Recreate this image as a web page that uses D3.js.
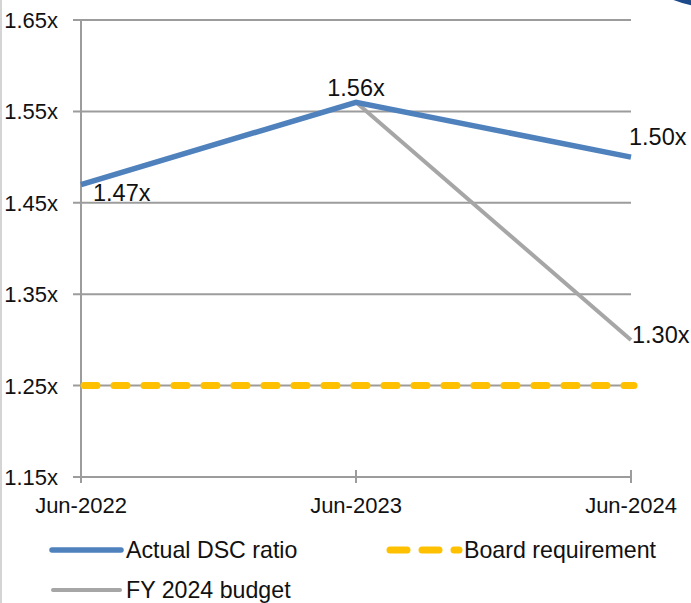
<!DOCTYPE html>
<html><head><meta charset="utf-8">
<script src="https://cdn.jsdelivr.net/npm/d3@7"></script>
<style>html,body{margin:0;padding:0;background:#fff;}svg{display:block;font-family:"Liberation Sans",Arial,sans-serif;}</style>
</head><body>
<script>
const categories = ["Jun-2022", "Jun-2023", "Jun-2024"];
const actualDSC = [1.47, 1.56, 1.50];
const budgetCats = ["Jun-2023", "Jun-2024"];
const budgetFY2024 = [1.56, 1.30];
const boardRequirement = [1.25, 1.25, 1.25];
const yTicks = [1.15, 1.25, 1.35, 1.45, 1.55, 1.65];
const legendLabels = ["Actual DSC ratio", "Board requirement", "FY 2024 budget"];

const W = 691, H = 603;
const svg = d3.select("body").append("svg").attr("width", W).attr("height", H);

// frame line & corner logo fragment
svg.append("line").attr("x1", 1).attr("x2", 1).attr("y1", 0).attr("y2", H)
  .attr("stroke", "#d4d4d4").attr("stroke-width", 2);
svg.append("circle").attr("cx", 712).attr("cy", -95).attr("r", 100)
  .attr("fill", "#8aa83c").attr("stroke", "#1d4a8a").attr("stroke-width", 5);

const x = d3.scalePoint().domain(categories).range([81, 631]);
const y = d3.scaleLinear().domain([1.15, 1.65]).range([477, 20]);

const gridColor = "#9c9c9c";
// gridlines
svg.append("g").selectAll("line").data(yTicks).join("line")
  .attr("x1", 73).attr("x2", 631)
  .attr("y1", d => y(d)).attr("y2", d => y(d))
  .attr("stroke", gridColor).attr("stroke-width", 2);

// y axis line
svg.append("line").attr("x1", x(categories[0])).attr("x2", x(categories[0]))
  .attr("y1", y(1.65)).attr("y2", y(1.15) + 6).attr("stroke", gridColor).attr("stroke-width", 2);
// x ticks
svg.append("g").selectAll("line").data(categories).join("line")
  .attr("x1", d => x(d)).attr("x2", d => x(d))
  .attr("y1", y(1.15) - 7).attr("y2", y(1.15) + 6)
  .attr("stroke", gridColor).attr("stroke-width", 2);

// y tick labels
svg.append("g").selectAll("text").data(yTicks).join("text")
  .attr("x", 58).attr("y", d => y(d)).attr("dy", "0.36em")
  .attr("text-anchor", "end").attr("font-size", 22).attr("fill", "#111")
  .text(d => d.toFixed(2) + "x");

// x tick labels
svg.append("g").selectAll("text").data(categories).join("text")
  .attr("x", d => x(d)).attr("y", 513)
  .attr("text-anchor", "middle").attr("font-size", 22).attr("fill", "#111")
  .text(d => d);

const line = d3.line().x(d => x(d[0])).y(d => y(d[1]));

// board requirement dashed
svg.append("path").datum(categories.map((c, i) => [c, boardRequirement[i]]))
  .attr("d", line).attr("fill", "none").attr("stroke", "#ffc000")
  .attr("stroke-width", 7).attr("stroke-linecap", "round")
  .attr("stroke-dasharray", "13,17").attr("transform", "translate(3,0)");

// budget
svg.append("path").datum(budgetCats.map((c, i) => [c, budgetFY2024[i]]))
  .attr("d", line).attr("fill", "none").attr("stroke", "#a6a6a6")
  .attr("stroke-width", 4);

// actual
svg.append("path").datum(categories.map((c, i) => [c, actualDSC[i]]))
  .attr("d", line).attr("fill", "none").attr("stroke", "#4f81bd")
  .attr("stroke-width", 5.5);

// data labels
const lbl = svg.append("g").attr("font-size", 23.5).attr("fill", "#111");
lbl.append("text").attr("x", x(categories[0]) + 12).attr("y", y(actualDSC[0]) + 16).text(actualDSC[0].toFixed(2) + "x");
lbl.append("text").attr("x", x(categories[1])).attr("y", y(actualDSC[1]) - 6).attr("text-anchor", "middle").text(actualDSC[1].toFixed(2) + "x");
lbl.append("text").attr("x", x(categories[2]) - 2).attr("y", y(actualDSC[2]) - 12).text(actualDSC[2].toFixed(2) + "x");
lbl.append("text").attr("x", x(budgetCats[1]) + 1).attr("y", y(budgetFY2024[1]) + 3).text(budgetFY2024[1].toFixed(2) + "x");

// legend
const leg = svg.append("g").attr("font-size", 23.2).attr("fill", "#111");
leg.append("line").attr("x1", 52).attr("x2", 121).attr("y1", 550).attr("y2", 550)
  .attr("stroke", "#4f81bd").attr("stroke-width", 5.5).attr("stroke-linecap", "round");
leg.append("text").attr("x", 126).attr("y", 550).attr("dy", "0.36em").text(legendLabels[0]);
leg.append("line").attr("x1", 390).attr("x2", 459).attr("y1", 550).attr("y2", 550)
  .attr("stroke", "#ffc000").attr("stroke-width", 7).attr("stroke-linecap", "round")
  .attr("stroke-dasharray", "17,15");
leg.append("text").attr("x", 464).attr("y", 550).attr("dy", "0.36em").text(legendLabels[1]);
leg.append("line").attr("x1", 53).attr("x2", 120).attr("y1", 590).attr("y2", 590)
  .attr("stroke", "#a6a6a6").attr("stroke-width", 4).attr("stroke-linecap", "round");
leg.append("text").attr("x", 126).attr("y", 590).attr("dy", "0.36em").text(legendLabels[2]);
</script>
</body></html>
